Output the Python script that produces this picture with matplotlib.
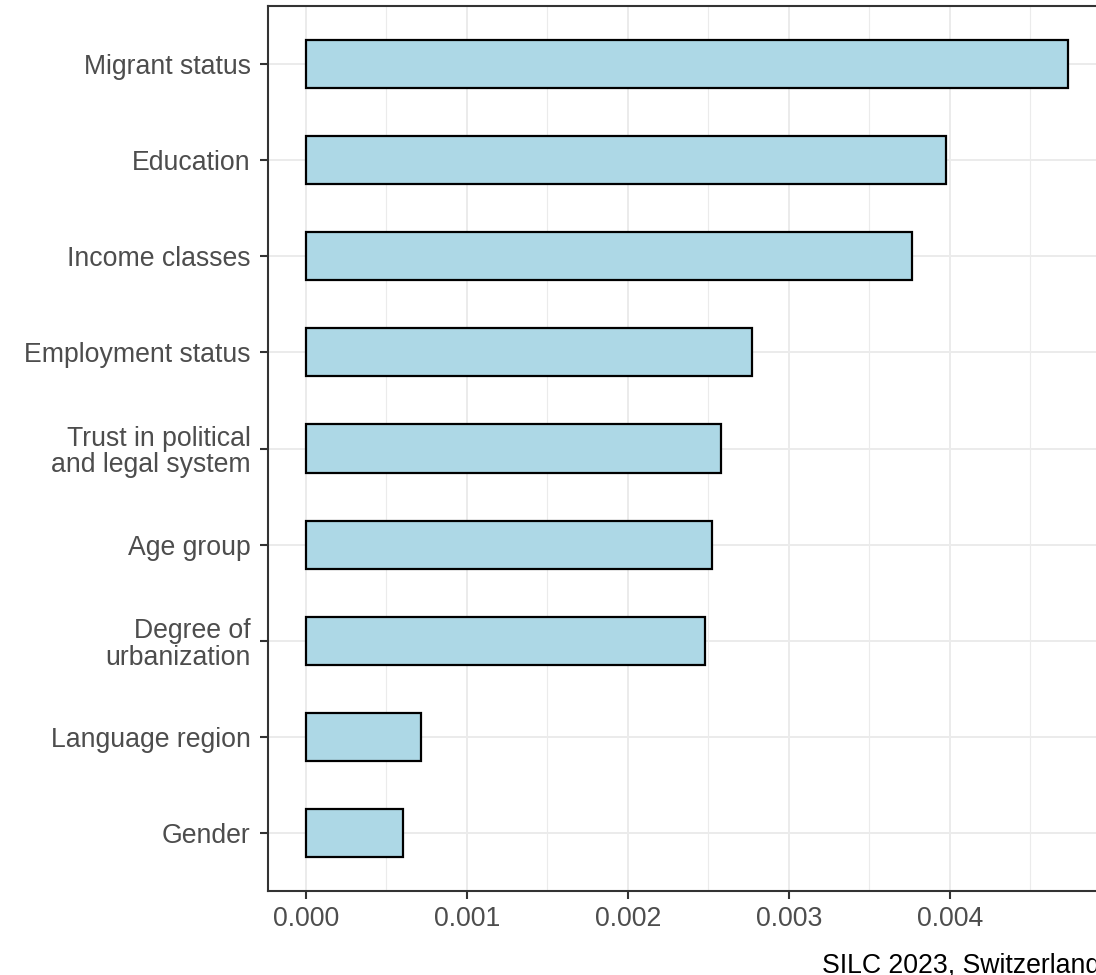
import matplotlib
matplotlib.use("Agg")
import matplotlib.pyplot as plt
from matplotlib.ticker import MultipleLocator

plt.rcParams['font.family'] = ['Liberation Sans', 'DejaVu Sans']

# data, bottom to top
labels = ["Gender", "Language region", "Degree of\nurbanization", "Age group",
          "Trust in political\nand legal system", "Employment status",
          "Income classes", "Education", "Migrant status"]
values = [0.000602, 0.000714, 0.002478, 0.002522, 0.002578, 0.002770,
          0.003764, 0.003975, 0.004733]
xticks = [0.000, 0.001, 0.002, 0.003, 0.004]
caption = "SILC 2023, Switzerland"

W, H = 1096, 975
fig = plt.figure(figsize=(W / 100, H / 100), dpi=100)
# panel runs a little past the right edge, as in the reference
x0, x1 = 267.8, 1105.7
y0, y1 = 6.3, 890.7
ax = fig.add_axes([x0 / W, 1 - y1 / H, (x1 - x0) / W, (y1 - y0) / H])

pos = list(range(1, len(labels) + 1))
ax.barh(pos, values, height=0.5, color="#ADD8E6", edgecolor="black",
        linewidth=1.6, zorder=3)

xmax = max(values)
ax.set_xlim(-0.05 * xmax, 1.05 * xmax)
ax.set_ylim(0.4, len(labels) + 0.6)

ax.set_xticks(xticks)
ax.set_xticklabels(["%.3f" % t for t in xticks])
ax.xaxis.set_minor_locator(MultipleLocator(0.0005))
ax.set_yticks(pos)
ax.set_yticklabels(labels, linespacing=1.05)

ax.grid(True, which="major", color="#EBEBEB", linewidth=1.4, zorder=0)
ax.grid(True, which="minor", axis="x", color="#EBEBEB", linewidth=0.8, zorder=0)
ax.set_axisbelow(True)

for s in ax.spines.values():
    s.set_color("#333333")
    s.set_linewidth(1.5)

ax.tick_params(axis="both", which="major", length=5.8, width=1.5,
               color="#333333", labelcolor="#4D4D4D", labelsize=19.2)
ax.tick_params(axis="x", which="minor", length=0)
ax.tick_params(axis="x", pad=5.5)
ax.tick_params(axis="y", pad=6.5)

fig.text(822 / W, 1 - 965 / H, caption, fontsize=19.2, color="black",
         ha="left", va="center")

fig.savefig("out.png", dpi=100)
